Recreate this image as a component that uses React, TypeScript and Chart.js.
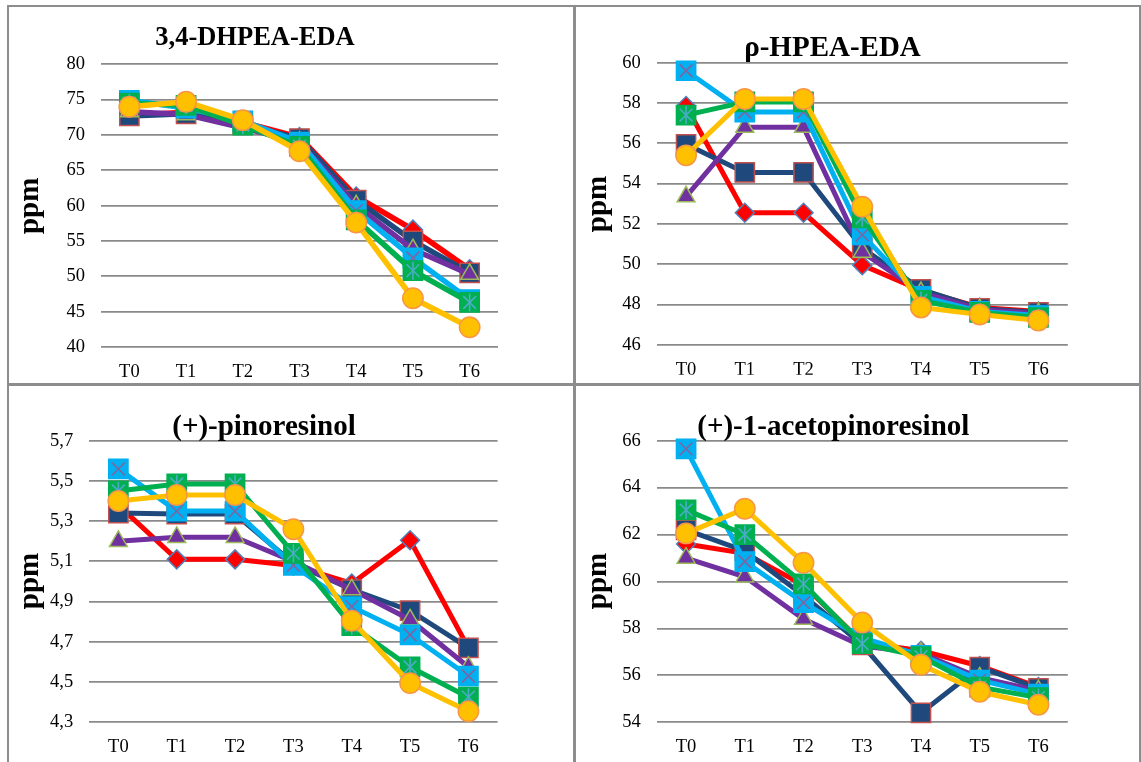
import React, { useEffect, useRef } from 'react';
import { Chart, registerables } from 'chart.js';

Chart.register(...registerables);

// ---------- data ----------
const categories = ['T0', 'T1', 'T2', 'T3', 'T4', 'T5', 'T6'];

// 3,4-DHPEA-EDA
const dhpeaRed = [72.8, 73.2, 71.8, 69.7, 61.3, 56.6, 51.0];
const dhpeaNavy = [72.7, 73.0, 71.5, 69.5, 60.8, 55.0, 50.5];
const dhpeaPurple = [73.3, 72.9, 71.0, 69.0, 60.0, 53.8, 50.3];
const dhpeaCyan = [74.9, 73.8, 72.0, 69.0, 59.3, 52.6, 46.7];
const dhpeaGreen = [74.5, 74.2, 71.4, 68.4, 58.0, 50.8, 46.3];
const dhpeaYellow = [74.0, 74.7, 72.1, 67.7, 57.6, 46.9, 42.8];

// ρ-HPEA-EDA
const hpeaRed = [57.85, 52.55, 52.55, 49.95, 48.7, 47.85, 47.65];
const hpeaNavy = [55.95, 54.55, 54.55, 50.8, 48.75, 47.8, 47.6];
const hpeaPurple = [53.35, 56.8, 56.8, 50.6, 48.6, 47.75, 47.55];
const hpeaCyan = [59.6, 57.55, 57.55, 51.45, 48.4, 47.65, 47.45];
const hpeaGreen = [57.4, 58.05, 58.05, 52.3, 48.2, 47.6, 47.35];
const hpeaYellow = [55.4, 58.2, 58.2, 52.85, 47.85, 47.5, 47.2];

// (+)-pinoresinol
const pinoRed = [5.38, 5.11, 5.11, 5.08, 4.99, 5.205, 4.67];
const pinoNavy = [5.34, 5.335, 5.335, 5.09, 4.96, 4.855, 4.67];
const pinoPurple = [5.2, 5.22, 5.22, 5.1, 4.96, 4.81, 4.575];
const pinoCyan = [5.56, 5.35, 5.35, 5.08, 4.875, 4.735, 4.53];
const pinoGreen = [5.45, 5.485, 5.485, 5.14, 4.78, 4.575, 4.425];
const pinoYellow = [5.4, 5.43, 5.43, 5.26, 4.805, 4.495, 4.355];

// (+)-1-acetopinoresinol
const acetoRed = [61.6, 61.2, 59.85, 57.4, 57.05, 56.4, 55.5];
const acetoNavy = [62.2, 61.3, 59.4, 57.3, 54.4, 56.35, 55.45];
const acetoPurple = [61.0, 60.2, 58.4, 57.25, 56.95, 55.9, 55.35];
const acetoCyan = [65.65, 60.85, 59.1, 57.6, 56.85, 55.8, 55.2];
const acetoGreen = [63.05, 62.0, 59.9, 57.35, 56.8, 55.5, 55.05];
const acetoYellow = [62.05, 63.1, 60.8, 58.25, 56.45, 55.3, 54.75];

// y axis ranges / tick steps
const dhpeaAxis = [40, 80, 5];
const hpeaAxis = [46, 60, 2];
const pinoAxis = [4.3, 5.7, 0.2];
const acetoAxis = [54, 66, 2];

const FONT = '"Liberation Serif", "Times New Roman", serif';

type Overlay = { shape: string; color: string; r: number; rot?: number };
type Style = { line: string; fill: string; border: string; shape: string; r: number; overlays?: Overlay[] };

const seriesStyles: Style[] = [
  { line: '#FF0000', fill: '#FF0000', border: '#4F81BD', shape: 'rectRot', r: 9.5 },
  { line: '#1F497D', fill: '#1F497D', border: '#C0504D', shape: 'rect', r: 13.6 },
  { line: '#7030A0', fill: '#7030A0', border: '#9BBB59', shape: 'triangle', r: 10.3 },
  {
    line: '#00B0F0', fill: '#00B0F0', border: '#00B0F0', shape: 'rect', r: 13.6,
    overlays: [{ shape: 'crossRot', color: '#8064A2', r: 9 }],
  },
  {
    line: '#00B050', fill: '#00B050', border: '#00B050', shape: 'rect', r: 13.6,
    overlays: [
      { shape: 'crossRot', color: '#4BACC6', r: 9 },
      { shape: 'line', color: '#4BACC6', r: 9, rot: 90 },
    ],
  },
  { line: '#FFC000', fill: '#FFC000', border: '#F79646', shape: 'circle', r: 10.2 },
];

type PanelCfg = {
  title: string;
  titleSize: number;
  series: number[][];
  axis: number[];
  decimals: number;
  left: number;
  top: number;
  yWidth: number;
  padRight: number;
  padTop: number;
  padBottom: number;
  tx: number;
  ty: number;
  px: number;
  py: number;
  lineWidth: number;
};

const W = 564;
const H = 376;

const panels: PanelCfg[] = [
  {
    title: '3,4-DHPEA-EDA', titleSize: 26.5,
    series: [dhpeaRed, dhpeaNavy, dhpeaPurple, dhpeaCyan, dhpeaGreen, dhpeaYellow],
    axis: dhpeaAxis, decimals: 0,
    left: 9, top: 7, yWidth: 92, padRight: 75, padTop: 57.3, padBottom: 6,
    tx: 246, ty: 38, px: 29, py: 198.8, lineWidth: 5.5,
  },
  {
    title: 'ρ-HPEA-EDA', titleSize: 29,
    series: [hpeaRed, hpeaNavy, hpeaPurple, hpeaCyan, hpeaGreen, hpeaYellow],
    axis: hpeaAxis, decimals: 0,
    left: 575, top: 7, yWidth: 81.7, padRight: 71.2, padTop: 55.7, padBottom: 8.3,
    tx: 257.5, ty: 49, px: 30.6, py: 197, lineWidth: 5,
  },
  {
    title: '(+)-pinoresinol', titleSize: 29,
    series: [pinoRed, pinoNavy, pinoPurple, pinoCyan, pinoGreen, pinoYellow],
    axis: pinoAxis, decimals: 1,
    left: 9, top: 386, yWidth: 80.2, padRight: 75.4, padTop: 54.7, padBottom: 9.7,
    tx: 255, ty: 49, px: 29, py: 195, lineWidth: 5,
  },
  {
    title: '(+)-1-acetopinoresinol', titleSize: 29,
    series: [acetoRed, acetoNavy, acetoPurple, acetoCyan, acetoGreen, acetoYellow],
    axis: acetoAxis, decimals: 0,
    left: 575, top: 386, yWidth: 81.7, padRight: 71.2, padTop: 54.7, padBottom: 9.7,
    tx: 258.3, ty: 49, px: 31.2, py: 195, lineWidth: 5,
  },
];

function buildDatasets(series: number[][], lineWidth: number) {
  const ds: any[] = [];
  series.forEach((values, i) => {
    const st = seriesStyles[i];
    const baseOrder = 100 - i * 10;
    ds.push({
      data: values,
      borderColor: st.line,
      borderWidth: lineWidth,
      backgroundColor: st.fill,
      pointStyle: st.shape,
      pointRadius: st.r,
      pointBackgroundColor: st.fill,
      pointBorderColor: st.border,
      pointBorderWidth: 1.5,
      tension: 0,
      clip: false,
      order: baseOrder,
    });
    (st.overlays || []).forEach((ov, k) => {
      ds.push({
        data: values,
        showLine: false,
        pointStyle: ov.shape,
        pointRadius: ov.r,
        pointRotation: ov.rot || 0,
        pointBackgroundColor: 'rgba(0,0,0,0)',
        pointBorderColor: ov.color,
        pointBorderWidth: 1.6,
        borderColor: ov.color,
        clip: false,
        order: baseOrder - 1 - k,
      });
    });
  });
  return ds;
}

function PanelChart({ cfg }: { cfg: PanelCfg }) {
  const ref = useRef<HTMLCanvasElement | null>(null);
  useEffect(() => {
    if (!ref.current) return;
    const textPlugin = {
      id: 'panelText',
      afterDraw(chart: any) {
        const ctx = chart.ctx;
        ctx.save();
        ctx.fillStyle = '#000';
        ctx.textAlign = 'center';
        ctx.textBaseline = 'alphabetic';
        ctx.font = `bold ${cfg.titleSize}px ${FONT}`;
        ctx.fillText(cfg.title, cfg.tx, cfg.ty);
        ctx.translate(cfg.px, cfg.py);
        ctx.rotate(-Math.PI / 2);
        ctx.font = `bold 29px ${FONT}`;
        ctx.fillText('ppm', 0, 0);
        ctx.restore();
      },
    };
    const [min, max, step] = cfg.axis;
    const chart = new Chart(ref.current, {
      type: 'line',
      data: { labels: categories, datasets: buildDatasets(cfg.series, cfg.lineWidth) },
      options: {
        responsive: false,
        animation: false,
        events: [],
        layout: { padding: { left: 0, right: cfg.padRight, top: cfg.padTop, bottom: cfg.padBottom } },
        plugins: { legend: { display: false }, title: { display: false }, tooltip: { enabled: false } },
        scales: {
          x: {
            type: 'category',
            offset: true,
            grid: { display: false, drawTicks: false },
            border: { display: false },
            ticks: { color: '#000', font: { family: FONT, size: 18.5 }, padding: 14, maxRotation: 0, autoSkip: false },
            afterFit: (s: any) => { s.height = 30; },
          },
          y: {
            min, max,
            grid: { color: '#8a8a8a', lineWidth: 1.8, drawTicks: false },
            border: { display: false },
            ticks: {
              stepSize: step,
              autoSkip: false,
              color: '#000',
              padding: 16,
              font: { family: FONT, size: 18.5 },
              callback: (v: any) => Number(v).toFixed(cfg.decimals).replace('.', ','),
            },
            afterFit: (s: any) => { s.width = cfg.yWidth; },
          },
        },
      },
      plugins: [textPlugin],
    } as any);
    return () => chart.destroy();
  }, [cfg]);
  return (
    <canvas
      ref={ref}
      width={W}
      height={H}
      style={{ position: 'absolute', left: cfg.left, top: cfg.top, width: W, height: H }}
    />
  );
}

const lineColor = '#8d8d8d';

export default function App() {
  return (
    <div style={{ position: 'absolute', left: 0, top: 0, width: 1141, height: 762, background: '#fff', overflow: 'hidden' }}>
      {panels.map((p, i) => (
        <PanelChart key={i} cfg={p} />
      ))}
      <div style={{ position: 'absolute', left: 7, top: 5, width: 1134, height: 2, background: lineColor }} />
      <div style={{ position: 'absolute', left: 7, top: 5, width: 2, height: 757, background: lineColor }} />
      <div style={{ position: 'absolute', left: 1139, top: 5, width: 2, height: 757, background: lineColor }} />
      <div style={{ position: 'absolute', left: 573, top: 5, width: 2.5, height: 757, background: lineColor }} />
      <div style={{ position: 'absolute', left: 7, top: 383, width: 1134, height: 2.5, background: lineColor }} />
    </div>
  );
}
